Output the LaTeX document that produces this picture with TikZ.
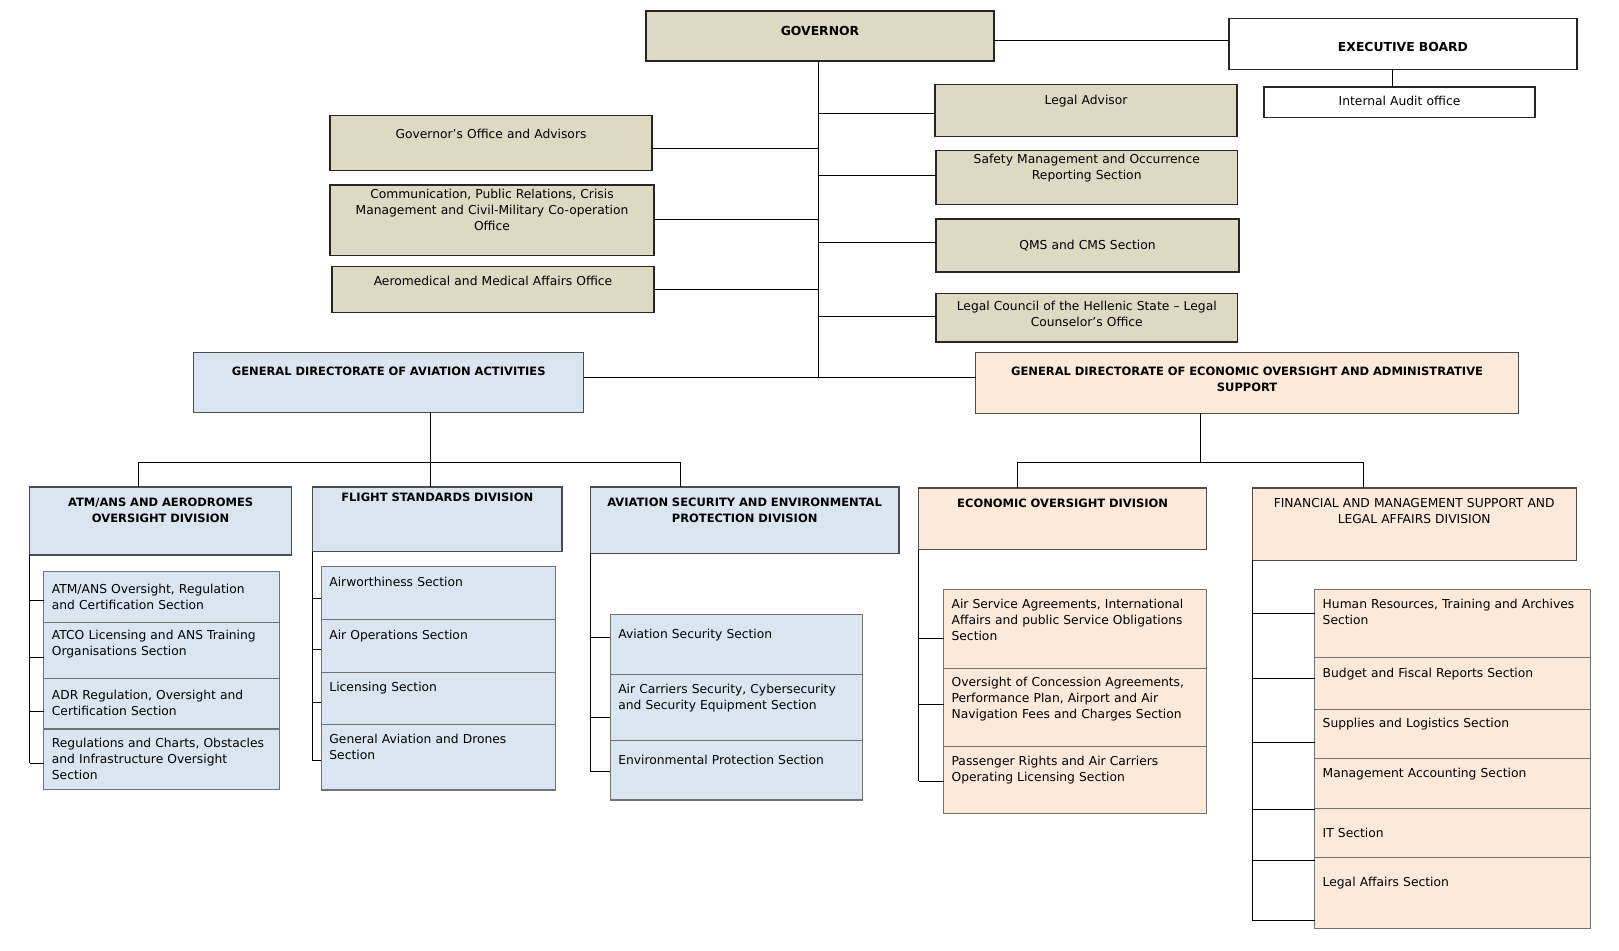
\documentclass[tikz,border=0pt]{standalone}
\usepackage{fontspec}
\setmainfont{DejaVu Sans}
\usepackage{tikz}
\usetikzlibrary{positioning}
\usepackage{xcolor}
\definecolor{tanfill}{HTML}{DDD9C3}
\definecolor{bluefill}{HTML}{DBE5F1}
\definecolor{peachfill}{HTML}{FDE9D9}
\newcommand{\regfont}{\fontsize{12.3}{16}\selectfont}
\newcommand{\hdfont}{\fontsize{11.5}{16}\selectfont\bfseries}
\newcommand{\govfont}{\fontsize{12.4}{16}\selectfont\bfseries}
\tikzstyle{tanbox} = [rectangle, 
draw=black!85, 
fill=tanfill, 
line width=1.1pt, 
inner xsep=8pt, inner ysep=0pt, outer sep=0pt,
align=center, 
anchor=north west, 
font=\regfont]
\tikzstyle{topbox} = [tanbox, font=\govfont]
\tikzstyle{whitebox} = [tanbox, fill=white]
\tikzstyle{bluehead} = [rectangle, 
draw=black!70, 
fill=bluefill, 
line width=1.1pt, 
inner xsep=8pt, inner ysep=0pt, outer sep=0pt,
align=center, 
anchor=north west, 
font=\hdfont]
\tikzstyle{peachhead} = [bluehead, fill=peachfill]
\tikzstyle{bluesec} = [rectangle, 
draw=black!55, 
fill=bluefill, 
line width=1.1pt, 
inner xsep=8pt, inner ysep=0pt, outer sep=0pt,
align=left, 
anchor=north west, 
font=\regfont]
\tikzstyle{peachsec} = [bluesec, fill=peachfill]
\tikzstyle{link} = [line width=1pt, draw=black]
% box size: width, height, top to first baseline
\tikzset{sz/.code n args={3}{%
  \pgfmathsetmacro\boxtw{#1-16}%
  \pgfmathsetmacro\boxtd{#2-#3}%
  \edef\boxsz{text width=\boxtw pt, text height=#3pt, text depth=\boxtd pt}%
  \expandafter\tikzset\expandafter{\boxsz}}}

\begin{document}
\begin{tikzpicture}[x=1pt, y=-1pt]
		\useasboundingbox (0,0) rectangle (1619,950);
		
		% governor and board
		\node (gov) [topbox, sz={348}{50}{24.5}] at (646,11) {GOVERNOR};
		\node (exec) [whitebox, font=\govfont, sz={348}{51}{33}] at (1229,18.3) {EXECUTIVE BOARD};
		\node (audit) [whitebox, sz={271}{30.3}{18}] at (1264,87) {Internal Audit office};
		
		% offices
		\node (goff) [tanbox, sz={322}{55}{22.6}] at (330,115.7) {Governor’s Office and Advisors};
		\node (comm) [tanbox, sz={324}{70.3}{13}] at (330,185) {Communication, Public Relations, Crisis\\Management and Civil-Military Co-operation\\Office};
		\node (aero) [tanbox, sz={322}{45.6}{19}] at (332,266.7) {Aeromedical and Medical Affairs Office};
		\node (legal) [tanbox, sz={302}{51.6}{19.3}] at (935,84.7) {Legal Advisor};
		\node (safety) [tanbox, sz={301.5}{54}{12.7}] at (936,150.3) {Safety Management and Occurrence\\Reporting Section};
		\node (qms) [tanbox, sz={303}{53}{30}] at (936,219) {QMS and CMS Section};
		\node (council) [tanbox, sz={301.5}{48.3}{17}] at (936,293.7) {Legal Council of the Hellenic State – Legal\\Counselor’s Office};
		
		% general directorates
		\node (gdaa) [bluehead, sz={390}{60}{22.7}] at (193.7,352.3) {GENERAL DIRECTORATE OF AVIATION ACTIVITIES};
		\node (gdeo) [peachhead, sz={543}{60.6}{22.3}] at (975.6,352.7) {GENERAL DIRECTORATE OF ECONOMIC OVERSIGHT AND ADMINISTRATIVE\\SUPPORT};
		
		% divisions
		\node (atm) [bluehead, sz={262}{68}{19.7}] at (29.6,487) {ATM/ANS AND AERODROMES\\OVERSIGHT DIVISION};
		\node (fsd) [bluehead, sz={249.5}{64.7}{14}] at (312.5,487) {FLIGHT STANDARDS DIVISION};
		\node (avsec) [bluehead, sz={308.7}{66.3}{19.7}] at (590.3,487) {AVIATION SECURITY AND ENVIRONMENTAL\\PROTECTION DIVISION};
		\node (econ) [peachhead, sz={287.6}{61.5}{19.9}] at (918.8,488) {ECONOMIC OVERSIGHT DIVISION};
		\node (fin) [peachhead, font=\regfont, sz={323.8}{72.3}{19.9}] at (1252.3,488) {FINANCIAL AND MANAGEMENT SUPPORT AND\\LEGAL AFFAIRS DIVISION};
		
		% sections
		\node (a1) [bluesec, sz={235.4}{50.6}{21.6}] at (43.9,571.7) {ATM/ANS Oversight, Regulation\\and Certification Section};
		\node (a2) [bluesec, sz={235.4}{56}{17.4}, below=0pt of a1] {ATCO Licensing and ANS Training\\Organisations Section};
		\node (a3) [bluesec, sz={235.4}{50.7}{21.4}, below=0pt of a2] {ADR Regulation, Oversight and\\Certification Section};
		\node (a4) [bluesec, sz={235.4}{60.3}{18.3}, below=0pt of a3] {Regulations and Charts, Obstacles\\and Infrastructure Oversight\\Section};
		
		\node (f1) [bluesec, sz={234}{52.6}{19.6}] at (321.4,566.7) {Airworthiness Section};
		\node (f2) [bluesec, sz={234}{53}{19.7}, below=0pt of f1] {Air Operations Section};
		\node (f3) [bluesec, sz={234}{52}{19.4}, below=0pt of f2] {Licensing Section};
		\node (f4) [bluesec, sz={234}{65.7}{19}, below=0pt of f3] {General Aviation and Drones\\Section};
		
		\node (v1) [bluesec, sz={252}{60}{24}] at (610.3,614.3) {Aviation Security Section};
		\node (v2) [bluesec, sz={252}{66}{18.7}, below=0pt of v1] {Air Carriers Security, Cybersecurity\\and Security Equipment Section};
		\node (v3) [bluesec, sz={252}{59.7}{23.7}, below=0pt of v2] {Environmental Protection Section};
		
		\node (e1) [peachsec, sz={263.3}{78.8}{18.5}] at (943.6,589.7) {Air Service Agreements, International\\Affairs and public Service Obligations\\Section};
		\node (e2) [peachsec, sz={263.3}{78.4}{18}, below=0pt of e1] {Oversight of Concession Agreements,\\Performance Plan, Airport and Air\\Navigation Fees and Charges Section};
		\node (e3) [peachsec, sz={263.3}{66.3}{18.4}, below=0pt of e2] {Passenger Rights and Air Carriers\\Operating Licensing Section};
		
		\node (n1) [peachsec, sz={276}{67.6}{18.4}] at (1314.7,589.7) {Human Resources, Training and Archives\\Section};
		\node (n2) [peachsec, sz={276}{52.4}{20}, below=0pt of n1] {Budget and Fiscal Reports Section};
		\node (n3) [peachsec, sz={276}{49}{18}, below=0pt of n2] {Supplies and Logistics Section};
		\node (n4) [peachsec, sz={276}{50.1}{18.3}, below=0pt of n3] {Management Accounting Section};
		\node (n5) [peachsec, sz={276}{49}{28.6}, below=0pt of n4] {IT Section};
		\node (n6) [peachsec, sz={276}{70.3}{28.6}, below=0pt of n5] {Legal Affairs Section};
		
		% top connectors
		\coordinate (spine) at (818.3,377.7);
		\draw [link](gov.south -| spine) -- (spine);
		\draw [link](gov.east |- 0,40.3) -- (exec.west |- 0,40.3);
		\draw [link](exec.south -| 1392.6,0) -- (audit.north -| 1392.6,0);
		\foreach \b/\y in {goff/148.7, comm/219, aero/289}
			\draw [link](\b.east |- 0,\y) -- (spine |- 0,\y);
		\foreach \b/\y in {legal/113.3, safety/175.3, qms/242.3, council/316}
			\draw [link](spine |- 0,\y) -- (\b.west |- 0,\y);
		\draw [link](gdaa.east |- spine) -- (gdeo.west |- spine);
		
		% directorates to divisions
		\coordinate (avL) at (138.2,462.7);
		\coordinate (avR) at (680.3,462.7);
		\draw [link](gdaa.south -| 430.4,0) -- (fsd.north -| 430.4,0);
		\draw [link](atm.north -| avL) -- (avL) -- (avR) -- (avsec.north -| avR);
		\coordinate (ecL) at (1017.4,462.9);
		\coordinate (ecR) at (1363.3,462.9);
		\draw [link](gdeo.south -| 1200.5,0) -- (ecL -| 1200.5,0);
		\draw [link](econ.north -| ecL) -- (ecL) -- (ecR) -- (fin.north -| ecR);
		
		% divisions to sections
		\draw [link](atm.south west) -- (atm.south west |- 0,763.3);
		\foreach \s/\y in {a1/600, a2/657.3, a3/711.7, a4/763.3}
			\draw [link](atm.south west |- 0,\y) -- (\s.west |- 0,\y);
		\draw [link](fsd.south west) -- (fsd.south west |- 0,760.7);
		\foreach \s/\y in {f1/598.3, f2/649.3, f3/702.7, f4/760.7}
			\draw [link](fsd.south west |- 0,\y) -- (\s.west |- 0,\y);
		\draw [link](avsec.south west) -- (avsec.south west |- 0,771.7);
		\foreach \s/\y in {v1/637.7, v2/717.3, v3/771.7}
			\draw [link](avsec.south west |- 0,\y) -- (\s.west |- 0,\y);
		\draw [link](econ.south west) -- (econ.south west |- 0,781.1);
		\foreach \s/\y in {e1/638.1, e2/704.7, e3/781.1}
			\draw [link](econ.south west |- 0,\y) -- (\s.west |- 0,\y);
		\draw [link](fin.south west) -- (fin.south west |- 0,920.3);
		\foreach \s/\y in {n1/613.7, n2/678.3, n3/742.9, n4/809.5, n5/860.5, n6/920.3}
			\draw [link](fin.south west |- 0,\y) -- (\s.west |- 0,\y);
	\end{tikzpicture}
\end{document}
